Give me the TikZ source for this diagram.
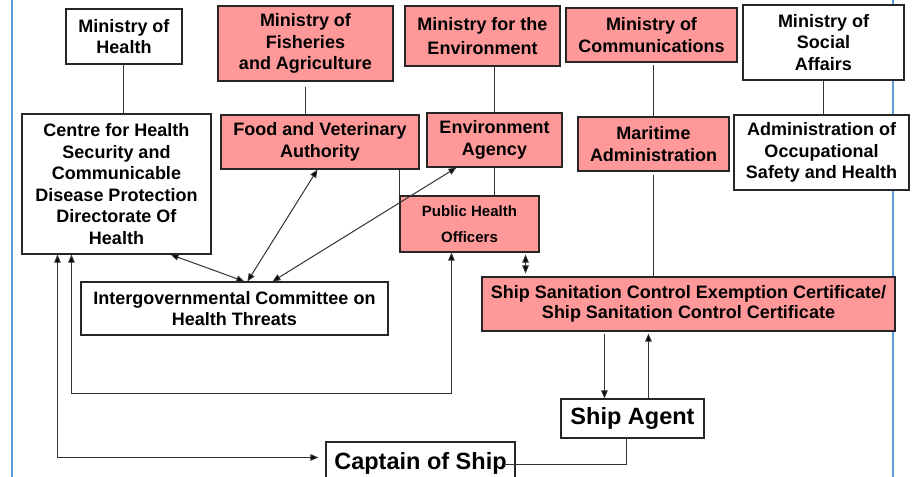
\documentclass[tikz,border=0pt]{standalone}
\usepackage{fontspec}
\setmainfont{Liberation Sans}
\usetikzlibrary{arrows.meta,calc}
\definecolor{pinkfill}{RGB}{255,153,153}
\definecolor{slideblue}{RGB}{91,155,213}
\begin{document}
\begin{tikzpicture}[x=1pt,y=-1pt,
  box/.style={draw=black!85, line width=1.1pt, inner sep=0pt, align=center,
    font=\fontsize{18}{21.5}\selectfont\bfseries},
  pinkbox/.style={box, fill=pinkfill},
  conn/.style={draw=black!80, line width=1pt},
  arr/.style={conn, -{Triangle[length=8pt,width=6.5pt,fill=black]}},
  darr/.style={conn, {Triangle[length=8pt,width=6.5pt,fill=black]}-{Triangle[length=8pt,width=6.5pt,fill=black]}},
]
\useasboundingbox (0,0) rectangle (914,477);
\clip (0,0) rectangle (914,477);
\fill[white] (0,0) rectangle (914,477);
% slide borders
\draw[slideblue, line width=2pt] (12,0) -- (12,477);
\draw[slideblue, line width=2pt] (893,0) -- (893,477);

% top row
\node[box, minimum width=116pt, minimum height=55pt] (moh) at (124,36.5) {Ministry of\\Health};
\node[pinkbox, minimum width=175pt, minimum height=75pt] (mofa) at (305.5,43.5) {Ministry of\\Fisheries\\and Agriculture};
\node[pinkbox, minimum width=155pt, minimum height=60pt, font=\fontsize{18}{24}\selectfont\bfseries] (mfte) at (482.5,36) {Ministry for the\\Environment};
\node[pinkbox, minimum width=171pt, minimum height=54pt] (moc) at (651.5,35) {Ministry of\\Communications};
\node[box, minimum width=161pt, minimum height=75pt, fill=white] (mosa) at (823.5,42.5) {Ministry of\\Social\\Affairs};

% second row
\node[box, minimum width=189pt, minimum height=140pt] (chs) at (116.5,184) {Centre for Health\\Security and\\Communicable\\Disease Protection\\Directorate Of\\Health};
\node[pinkbox, minimum width=198pt, minimum height=54pt] (fva) at (320,142) {Food and Veterinary\\Authority};
\node[pinkbox, minimum width=135pt, minimum height=54pt] (ea) at (494.5,140) {Environment\\Agency};
\node[pinkbox, minimum width=151pt, minimum height=54pt] (ma) at (653.5,144) {Maritime\\Administration};
\node[box, fill=white, minimum width=175pt, minimum height=75pt] (aosh) at (821.5,152.5) {Administration of\\Occupational\\Safety and Health};

% lower
\node[pinkbox, minimum width=139pt, minimum height=56pt, font=\fontsize{15}{26}\selectfont\bfseries] (pho) at (469.5,224) {Public Health\\Officers};
\node[pinkbox, minimum width=413pt, minimum height=54pt, font=\fontsize{18}{20}\selectfont\bfseries] (ssc) at (688.5,304) {Ship Sanitation Control Exemption Certificate/\\Ship Sanitation Control Certificate};
\node[box, minimum width=307pt, minimum height=53pt] (icht) at (234.5,308.5) {Intergovernmental Committee on\\Health Threats};
\node[box, minimum width=143pt, minimum height=39pt, font=\fontsize{23.5}{28}\selectfont\bfseries] (sa) at (632.5,418.5) {Ship Agent};
\node[box, minimum width=189pt, minimum height=43pt, font=\fontsize{23.5}{28}\selectfont\bfseries] (cap) at (420.5,463.5) {Captain of Ship};

% helper coordinates
\coordinate (mohx) at (123,0);
\coordinate (mofax) at (305,0);
\coordinate (phoA) at ($(pho.south east)+(-14,0)$);
\coordinate (sscA) at (phoA |- ssc.north);
\coordinate (sscD) at ($(ssc.south west)+(123,0)$);
\coordinate (saD) at (sscD |- sa.north);
\coordinate (saU) at ($(sa.north west)+(88,0)$);
\coordinate (sscU) at (saU |- ssc.south);
\coordinate (chsL) at ($(chs.south west)+(36,0)$);
\coordinate (capL) at ($(cap.north west)+(-7,16)$);
\coordinate (chsR) at ($(chs.south west)+(50,0)$);
\coordinate (loopC) at ($(pho.south west)+(52,141)$);
\coordinate (phoB) at ($(pho.south west)+(52,0)$);
\coordinate (saB) at ($(sa.south west)+(66,0)$);
\coordinate (capR) at ($(cap.north east)+(-12,23)$);

% hierarchy lines
\draw[conn] (moh.south -| mohx) -- (chs.north -| mohx);
\draw[conn, shorten <=5pt] (mofa.south -| mofax) -- (fva.north -| mofax);
\draw[conn] (ea.north) -- (ea.north |- mfte.south);
\draw[conn, shorten >=2pt] (ma.north) -- (ma.north |- moc.south);
\draw[conn] (mosa.south) -- (mosa.south |- aosh.north);
\draw[conn, shorten <=3pt] (ma.south) -- (ma.south |- ssc.north);
\draw[conn] (pho.north west) -- (pho.north west |- fva.south);
\draw[conn] (ea.south) -- (ea.south |- pho.north);

% arrows to committee
\draw[darr] ($(chs.south east)+(-41,0)$) -- ($(icht.north west)+(164,0)$);
\draw[darr] ($(fva.south west)+(97,0)$) -- ($(icht.north west)+(167,0)$);
\draw[darr] ($(ea.south west)+(30,0)$) -- ($(icht.north west)+(192,0)$);

% PHO <-> SSC
\draw[darr, shorten <=2pt, shorten >=3pt] (phoA) -- (sscA);

% loops from centre
\draw[darr] (chsL) |- (capL);
\draw[darr] (chsR) |- (loopC) -- (phoB);

% SSC <-> ship agent
\draw[arr, shorten <=2pt] (sscD) -- (saD);
\draw[arr, shorten >=2pt] (saU) -- (sscU);

% ship agent to captain
\draw[conn] (saB) |- (capR);
\end{tikzpicture}
\end{document}
